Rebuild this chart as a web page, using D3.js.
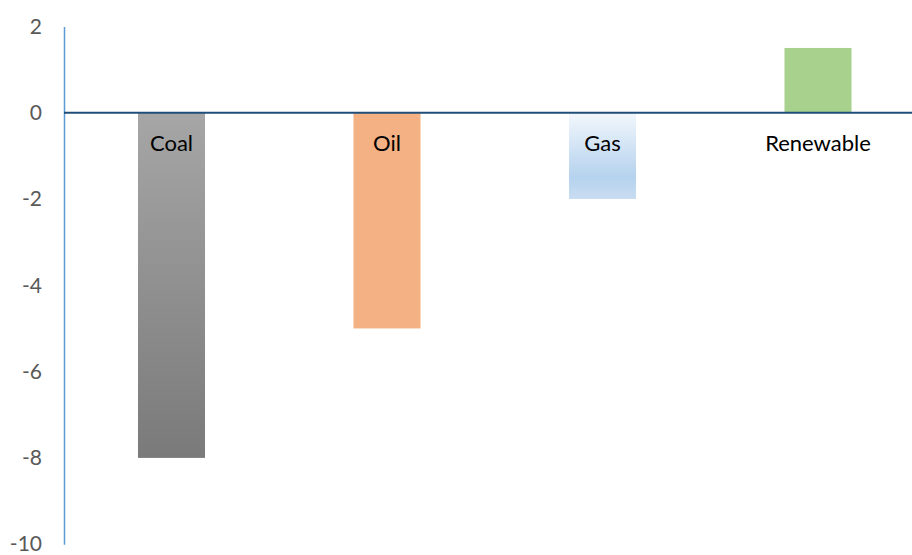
<!DOCTYPE html>
<html><head><meta charset="utf-8">
<script src="https://cdn.jsdelivr.net/npm/d3@7"></script>
<style>html,body{margin:0;padding:0;background:#fff;}svg{display:block;}</style>
</head><body><svg id="c" width="912" height="555"></svg>
<script>
const categories = ["Coal", "Oil", "Gas", "Renewable"];
const values = [-8, -5, -2, 1.5];
const yTicks = [2, 0, -2, -4, -6, -8, -10];

const svg = d3.select("#c");
const font = "Lato, 'Open Sans', sans-serif";
const y = d3.scaleLinear().domain([-10, 2]).range([544.2, 26.4]);
const x = d3.scaleBand().domain(categories).range([63.75, 925.75]).paddingInner(0.689).paddingOuter(0.3445);

const defs = svg.append("defs");
const gCoal = defs.append("linearGradient").attr("id","gCoal").attr("x1",0).attr("y1",0).attr("x2",0).attr("y2",1);
gCoal.append("stop").attr("offset","0%").attr("stop-color","#a6a6a6");
gCoal.append("stop").attr("offset","100%").attr("stop-color","#7a7a7a");
const gGas = defs.append("linearGradient").attr("id","gGas").attr("x1",0).attr("y1",0).attr("x2",0).attr("y2",1);
gGas.append("stop").attr("offset","0%").attr("stop-color","#f2f7fc");
gGas.append("stop").attr("offset","75%").attr("stop-color","#b5d2ee");
gGas.append("stop").attr("offset","100%").attr("stop-color","#c9ddf1");
const fills = {"Coal":"url(#gCoal)","Oil":"#f4b183","Gas":"url(#gGas)","Renewable":"#a9d18e"};

svg.selectAll("rect.bar").data(categories).enter().append("rect")
  .attr("class","bar")
  .attr("x", d => x(d))
  .attr("width", x.bandwidth())
  .attr("y", (d,i) => y(Math.max(0, values[i])))
  .attr("height", (d,i) => Math.abs(y(values[i]) - y(0)))
  .attr("fill", d => fills[d]);

// y axis
const yAxis = d3.axisLeft(y).tickValues(yTicks).tickSize(0).tickPadding(22).tickFormat(d3.format("d"));
const ga = svg.append("g").attr("transform","translate(64,0)").call(yAxis);
ga.select(".domain").attr("stroke","#5b9bd5").attr("stroke-width",1.5);
ga.selectAll("text").attr("font-family",font).attr("font-size",21).attr("fill","#595959").text(d => d < 0 ? "-" + Math.abs(d) : d);

// zero line
svg.append("line").attr("x1",64).attr("x2",912).attr("y1",y(0)).attr("y2",y(0))
  .attr("stroke","#1f4e79").attr("stroke-width",2);

// category labels
svg.selectAll("text.cat").data(categories).enter().append("text")
  .attr("class","cat")
  .attr("x", d => x(d) + x.bandwidth()/2)
  .attr("y", y(0) + 38)
  .attr("text-anchor","middle")
  .attr("font-family",font).attr("font-size",22).attr("fill","#000")
  .text(d => d);
</script></body></html>
